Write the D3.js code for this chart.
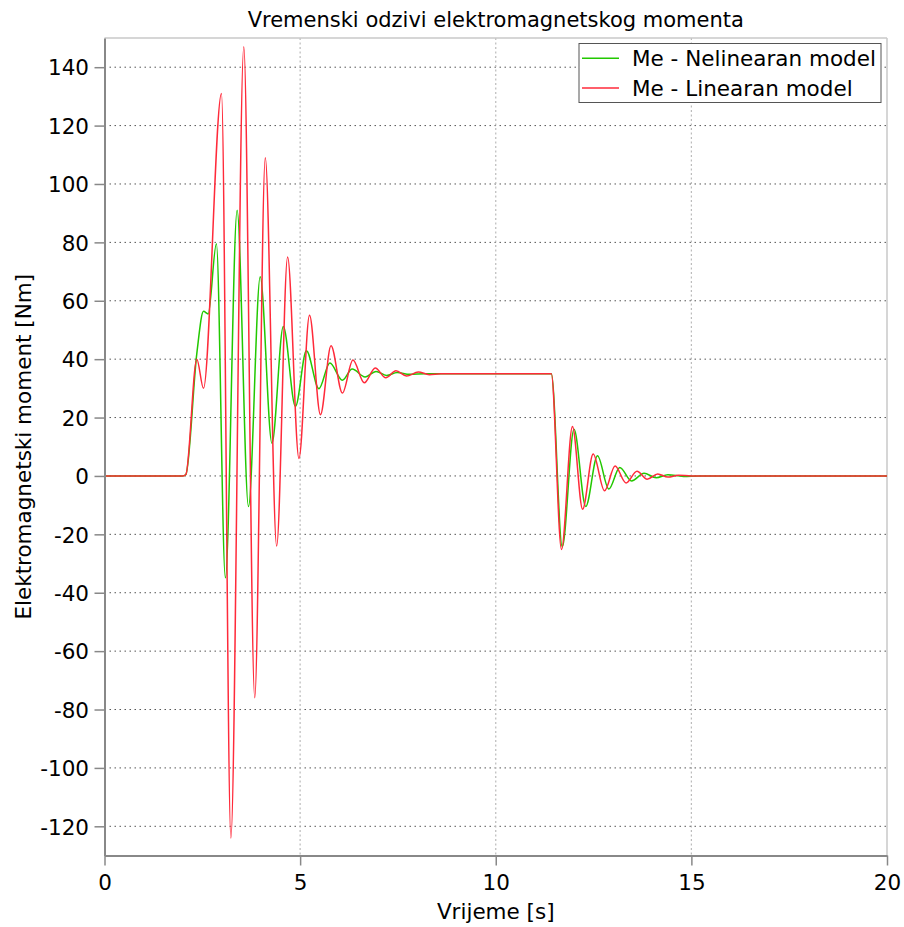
<!DOCTYPE html>
<html>
<head>
<meta charset="utf-8">
<script src="https://cdn.jsdelivr.net/npm/d3@7"></script>
<style>
  html, body { margin: 0; padding: 0; background: #fff; }
  svg { display: block; font-family: "DejaVu Sans", Verdana, sans-serif; }
</style>
</head>
<body>
<svg id="chart" width="904" height="927"></svg>
<script>
// ---- data ----
const xTicks = [0, 5, 10, 15, 20];
const yTicks = [-120, -100, -80, -60, -40, -20, 0, 20, 40, 60, 80, 100, 120, 140];

// Me - Linearan model (red): key points (time [s], torque [Nm])
const linearT = [0, 2.0, 2.08, 2.36, 2.53, 2.99, 3.23, 3.56, 3.84, 4.11, 4.40, 4.68, 4.97, 5.24, 5.52, 5.79, 6.08, 6.35, 6.64, 6.92, 7.19, 7.45, 7.72, 8.02, 8.30, 8.60, 11.42, 11.68, 11.96, 12.22, 12.49, 12.78, 13.05, 13.33, 13.61, 13.87, 14.14, 14.40, 14.67, 15.0, 20];
const linearV = [0, 0, 0.5, 40, 30, 131, -124, 147, -76, 109, -24, 75, 6, 55, 21, 44.6, 28.4, 39.7, 31.9, 37.0, 33.6, 36.0, 34.2, 35.6, 34.7, 35, 35, -25.2, 16.9, -11.4, 7.5, -5.1, 3.4, -2.4, 1.6, -1.1, 0.7, -0.4, 0.25, 0, 0];

// Me - Nelinearan model (green)
const nonlinT = [0, 2.0, 2.08, 2.36, 2.53, 2.65, 2.86, 3.09, 3.39, 3.68, 3.98, 4.28, 4.57, 4.88, 5.16, 5.48, 5.76, 6.08, 6.33, 6.66, 6.94, 7.21, 7.48, 7.80, 8.20, 11.42, 11.70, 12.00, 12.30, 12.60, 12.89, 13.17, 13.47, 13.79, 14.10, 14.40, 14.80, 15.20, 20];
const nonlinV = [0, 0, 0.5, 42, 56.4, 55.5, 79.5, -34.9, 91, -10.5, 68.2, 11.2, 51.2, 23.8, 42.9, 29.9, 38.7, 32.8, 36.6, 33.9, 35.8, 34.4, 35.4, 34.8, 35, 35, -24.3, 16.0, -10.5, 6.9, -4.5, 2.9, -1.7, 0.9, -0.6, 0.4, -0.15, 0, 0];

const seriesNames = ["Me - Nelinearan model", "Me - Linearan model"];
const seriesColors = ["#22c800", "#ff2a3a"];

// ---- layout ----
const svg = d3.select("#chart");
const L = 104.5, R = 887, T = 38, B = 855.5;
const x = d3.scaleLinear().domain([0, 20]).range([L, R]);
const y = d3.scaleLinear().domain([-130, 150]).range([B, T]);
const FS = 21.5;
const fmt = d => String(d); // plain hyphen-minus like the reference

// grid
const grid = svg.append("g");
grid.selectAll("line.h").data(yTicks).join("line")
  .attr("x1", L).attr("x2", R)
  .attr("y1", d => y(d)).attr("y2", d => y(d))
  .attr("stroke", "#555").attr("stroke-width", 1)
  .attr("stroke-dasharray", "1.5,3.5");
grid.selectAll("line.v").data(xTicks.filter(d => d > 0 && d < 20)).join("line")
  .attr("x1", d => x(d)).attr("x2", d => x(d))
  .attr("y1", T).attr("y2", B)
  .attr("stroke", "#bbb").attr("stroke-width", 1.2)
  .attr("stroke-dasharray", "2,2.5");

// frame (top/right light)
svg.append("line").attr("x1", L).attr("x2", R).attr("y1", T).attr("y2", T)
  .attr("stroke", "#c8c8c8").attr("stroke-width", 1.5);
svg.append("line").attr("x1", R).attr("x2", R).attr("y1", T).attr("y2", B)
  .attr("stroke", "#c8c8c8").attr("stroke-width", 1.5);

// curves
const line = d3.line().x(d => x(d[0])).y(d => y(d[1])).curve(d3.curveMonotoneX);
const nonlinData = nonlinT.map((t, i) => [t, nonlinV[i]]);
const linearData = linearT.map((t, i) => [t, linearV[i]]);
svg.append("path").datum(nonlinData).attr("d", line)
  .attr("fill", "none").attr("stroke", seriesColors[0]).attr("stroke-width", 1.5);
svg.append("path").datum(linearData).attr("d", line)
  .attr("fill", "none").attr("stroke", seriesColors[1]).attr("stroke-width", 1.5);

// axes
const xAxis = svg.append("g").attr("transform", `translate(0,${B})`)
  .call(d3.axisBottom(x).tickValues(xTicks).tickFormat(fmt).tickSize(10).tickPadding(9.5).tickSizeOuter(0));
const yAxis = svg.append("g").attr("transform", `translate(${L},0)`)
  .call(d3.axisLeft(y).tickValues(yTicks).tickFormat(fmt).tickSize(10).tickPadding(5.5).tickSizeOuter(0));
[xAxis, yAxis].forEach(a => {
  a.select(".domain").attr("stroke", "#888").attr("stroke-width", 2);
  a.selectAll(".tick line").attr("stroke", "#888").attr("stroke-width", 1.5);
  a.selectAll(".tick text").attr("fill", "#000")
    .style("font-family", '"DejaVu Sans", Verdana, sans-serif').style("font-size", FS + "px");
});
yAxis.selectAll(".tick text").attr("dy", "0.36em");

// titles
svg.append("text").attr("x", (L + R) / 2).attr("y", 27).attr("text-anchor", "middle")
  .style("font-size", "21px").text("Vremenski odzivi elektromagnetskog momenta");
svg.append("text").attr("x", (L + R) / 2).attr("y", 919).attr("text-anchor", "middle")
  .style("font-size", FS + "px").text("Vrijeme [s]");
svg.append("text").attr("transform", `translate(31,${(T + B) / 2}) rotate(-90)`)
  .attr("text-anchor", "middle").style("font-size", FS + "px").text("Elektromagnetski moment [Nm]");

// legend
const lg = svg.append("g");
lg.append("rect").attr("x", 579).attr("y", 43.5).attr("width", 302).attr("height", 59)
  .attr("fill", "#fff").attr("stroke", "#555").attr("stroke-width", 1);
seriesNames.forEach((name, i) => {
  const yy = 58.3 + i * 29.7;
  lg.append("line").attr("x1", 582).attr("x2", 619).attr("y1", yy).attr("y2", yy)
    .attr("stroke", seriesColors[i]).attr("stroke-width", 1.5);
  lg.append("text").attr("x", 632).attr("y", yy).attr("dy", "0.36em")
    .style("font-size", FS + "px").text(name);
});
</script>
</body>
</html>
